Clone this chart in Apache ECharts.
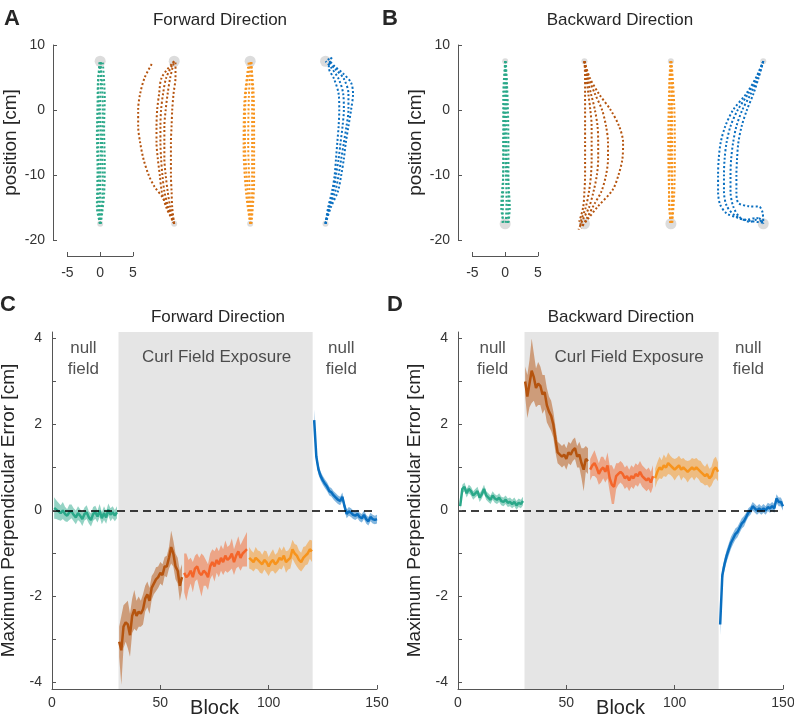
<!DOCTYPE html>
<html><head><meta charset="utf-8">
<script src="https://cdn.jsdelivr.net/npm/echarts@6/dist/echarts.min.js"></script>
<style>html,body{margin:0;padding:0;background:#fff}#c{width:794px;height:717px}</style>
</head><body><div id="c"></div>
<script>
// ---------------- DATA ----------------
// Panels A/B: column offsets (cm) and hand-path trials (dx from column, y in cm)
const fwdColumns = [0, 11.3, 22.9, 34.4];
const bwdColumns = [0, 12.1, 25.3, 39.4];
const fwdStartY = -17.5, fwdTargetY = 7.5;
const bwdStartY = 7.5, bwdTargetY = -17.5;

const fwdNullPre = [
 [[0.0,-17.5],[0.3,-14],[0.4,-10],[0.3,-5],[0.4,0],[0.3,4],[0.0,7.5]],
 [[0.0,-17.5],[-0.3,-14],[-0.2,-10],[-0.3,-5],[-0.2,0],[-0.3,4],[-0.1,7.5]],
 [[0.1,-17.5],[0.6,-13],[0.7,-8],[0.6,-3],[0.7,2],[0.4,7.3]],
 [[-0.1,-17.5],[0.0,-12],[0.1,-6],[0.0,0],[0.1,5],[0.1,7.5]],
 [[0.0,-17.5],[-0.5,-15],[-0.4,-9],[-0.5,-4],[-0.4,1],[-0.3,5],[0.2,7.5]]
];
const fwdCurlEarly = [
 [[0,-17.5],[-1.0,-15],[-1.8,-13.4],[-3.0,-11.8],[-3.9,-10],[-4.7,-7.5],[-5.2,-5],[-5.5,-2.5],[-5.5,0],[-5.2,2.5],[-4.5,5],[-3.3,7.3]],
 [[0,-17.5],[-1.2,-15],[-1.9,-12.5],[-2.2,-10],[-2.5,-7.5],[-2.7,-5],[-2.7,-2.5],[-2.6,0],[-2.3,2.5],[-1.9,5],[0,7.5]],
 [[0,-17.5],[-0.9,-15],[-1.5,-12.5],[-1.8,-10],[-2.0,-7.5],[-2.1,-5],[-2.1,-2.5],[-2.0,0],[-1.7,2.5],[-1.2,5],[0,7.5]],
 [[0,-17.5],[-0.6,-15],[-1.0,-12.5],[-1.3,-10],[-1.5,-7.5],[-1.5,-5],[-1.5,-2.5],[-1.3,0],[-1.0,2.5],[-0.6,5],[0,7.5]],
 [[0,-17.5],[-0.3,-15],[-0.4,-12.5],[-0.5,-10],[-0.5,-7.5],[-0.5,-5],[-0.4,-2.5],[-0.3,0],[-0.1,2.5],[0.2,5],[0.2,7.5]]
];
const fwdCurlLate = [
 [[0,-17.5],[-0.4,-12],[-0.8,-5],[-0.7,2],[0,7.5]],
 [[0.1,-17.5],[-0.1,-12],[-0.3,-5],[-0.2,2],[0.1,7.5]],
 [[0.1,-17.5],[0.3,-12],[0.3,-5],[0.3,2],[0.2,7.5]],
 [[0,-17.5],[-0.6,-13],[-1.0,-6],[-0.9,1],[-0.2,7.5]],
 [[0.2,-17.5],[0.6,-11],[0.6,-4],[0.5,3],[0.1,7.5]]
];
const fwdNullPost = [
 [[0,-17.5],[0.8,-15],[1.9,-12.5],[2.4,-10],[2.8,-7.5],[3.1,-5],[3.5,-2.5],[3.9,0],[4.2,2.5],[3.9,4.2],[2.7,5.6],[1.3,6.8],[0.4,7.9],[0.3,8.3]],
 [[0,-17.5],[0.6,-15],[1.5,-12.5],[2.0,-10],[2.4,-7.5],[2.8,-5],[3.2,-2.5],[3.5,0],[3.5,2.5],[2.8,4.8],[1.5,6.3],[0.3,7.5]],
 [[0,-17.5],[0.5,-15],[1.2,-12.5],[1.6,-10],[2.0,-7.5],[2.3,-5],[2.6,-2.5],[2.8,0],[2.7,2.5],[2.0,4.8],[0.8,6.6],[0,7.5]],
 [[0,-17.5],[0.4,-15],[1.0,-12.5],[1.4,-10],[1.6,-7.5],[1.8,-5],[2.0,-2.5],[2.1,0],[2.0,2.5],[1.3,4.8],[0.5,6.5],[0.8,7.8],[1.1,8.3]]
];
const bwdNullPre = [
 [[0,7.5],[0.1,3],[0.0,-3],[0.1,-9],[0.2,-14],[0.1,-17.5]],
 [[0,7.5],[-0.3,2],[-0.3,-5],[-0.3,-11],[-0.4,-17.5]],
 [[0.1,7.5],[0.4,1],[0.5,-6],[0.5,-12],[0.4,-17.5]],
 [[0,7.5],[0.2,4],[0.2,-2],[0.25,-8],[0.7,-15],[0.5,-17.5]],
 [[0,7.5],[-0.1,3],[-0.2,-4],[-0.3,-10],[-0.6,-15],[-0.2,-17.5]]
];
const bwdCurlEarly = [
 [[0,7.5],[0.8,5],[2.2,2.5],[4.0,0],[5.3,-2.5],[5.9,-5],[5.8,-7.5],[5.2,-10],[4.3,-12.3],[2.0,-14.9],[0.5,-16.8],[-0.3,-17.8]],
 [[0,7.5],[0.6,5],[1.6,2.5],[2.7,0],[3.3,-2.5],[3.6,-5],[3.6,-7.5],[3.3,-10],[2.6,-12.5],[1.5,-14.5],[0.3,-16.8],[-0.5,-18.2]],
 [[0,7.5],[0.4,5],[1.0,2.5],[1.6,0],[2.0,-2.5],[2.1,-5],[2.1,-7.5],[1.9,-10],[1.4,-12.5],[0.7,-15],[-0.3,-17],[-0.9,-18.4]],
 [[0,7.5],[0.3,5],[0.6,2.5],[0.9,0],[1.1,-2.5],[1.1,-5],[1.1,-7.5],[1.0,-10],[0.7,-12.5],[0.2,-15],[-0.5,-17],[-0.6,-18.0]],
 [[0,7.5],[0.1,5],[0.1,2.5],[0.1,0],[0.1,-2.5],[0.1,-5],[0.1,-7.5],[0.1,-10],[0.0,-12.5],[-0.2,-15],[-0.8,-17.2]]
];
const bwdCurlLate = [
 [[0,7.5],[0.1,2],[0.2,-5],[0.2,-12],[0.1,-17.5]],
 [[-0.1,7.5],[-0.3,2],[-0.4,-5],[-0.3,-12],[-0.1,-17.5]],
 [[0.1,7.5],[0.5,1],[0.6,-6],[0.5,-13],[0.2,-17.5]],
 [[0,7.5],[0.2,3],[0.0,-4],[0.1,-10],[0.3,-15],[0,-17.5]],
 [[0,7.5],[-0.2,4],[-0.1,-2],[-0.2,-9],[-0.3,-14],[0,-17.5]]
];
const bwdNullPost = [
 [[0,7.5],[-1.1,5],[-2.6,2.5],[-4.6,0],[-5.8,-2.5],[-6.5,-5],[-6.8,-7.5],[-6.9,-10],[-6.9,-12.5],[-6.6,-14.5],[-5.6,-15.9],[-3.8,-16.6],[-1.8,-17.1],[-0.2,-17.3]],
 [[0,7.5],[-1.0,5],[-2.3,2.5],[-3.9,0],[-5.0,-2.5],[-5.6,-5],[-5.9,-7.5],[-6.0,-10],[-6.0,-12.5],[-5.6,-14.7],[-4.4,-16.2],[-2.7,-16.9],[-1.0,-16.6],[0,-17.5]],
 [[0,7.5],[-0.8,5],[-1.9,2.5],[-3.2,0],[-4.1,-2.5],[-4.6,-5],[-4.9,-7.5],[-5.0,-10],[-5.0,-12.5],[-4.6,-14.8],[-3.6,-16.5],[-2.0,-17.2],[-0.6,-16.7],[0,-17.6]],
 [[0,7.5],[-0.7,5],[-1.5,2.5],[-2.5,0],[-3.3,-2.5],[-3.8,-5],[-4.0,-7.5],[-4.1,-10],[-4.1,-12.5],[-3.8,-14.3],[-2.2,-14.8],[-0.6,-14.9],[-0.1,-15.8],[0,-17.5]]
];

// Panels C/D: segment start blocks, means and error half-widths (cm)
const segStarts = [1, 31, 61, 91, 121];
const cGreen  = [0.06,0.02,-0.02,-0.06,0.0,-0.08,-0.12,-0.04,-0.02,-0.1,-0.16,-0.06,-0.12,-0.2,-0.08,-0.04,-0.16,-0.22,-0.08,-0.04,-0.14,0.0,-0.18,-0.06,-0.16,0.02,-0.1,-0.04,-0.12,-0.04];
const cGreenErr = [0.25,0.22,0.2,0.18,0.2,0.17,0.15,0.18,0.16,0.15,0.16,0.16,0.15,0.16,0.15,0.16,0.14,0.15,0.16,0.15,0.14,0.15,0.14,0.16,0.15,0.14,0.15,0.14,0.13,0.14];
const cBrown  = [-3.05,-3.25,-2.7,-2.6,-2.65,-2.9,-2.45,-2.3,-2.45,-2.35,-2.4,-2.3,-2.05,-1.95,-2.1,-1.8,-1.7,-1.6,-1.55,-1.45,-1.5,-1.3,-1.3,-1.1,-0.85,-1.0,-1.3,-1.4,-1.75,-1.55];
const cBrownErr = [0.35,0.8,0.5,0.45,0.55,0.5,0.4,0.45,0.35,0.35,0.3,0.35,0.3,0.3,0.3,0.28,0.25,0.28,0.25,0.25,0.25,0.22,0.25,0.25,0.38,0.3,0.3,0.3,0.35,0.3];
const cRed    = [-1.45,-1.55,-1.5,-1.4,-1.55,-1.35,-1.3,-1.45,-1.5,-1.4,-1.45,-1.55,-1.3,-1.2,-1.3,-1.15,-1.25,-1.1,-1.2,-1.05,-1.15,-1.1,-1.0,-1.2,-1.05,-0.95,-1.1,-1.0,-0.95,-0.9];
const cRedErr = [0.45,0.55,0.35,0.3,0.35,0.3,0.3,0.35,0.5,0.35,0.3,0.3,0.3,0.3,0.35,0.3,0.3,0.3,0.3,0.35,0.3,0.3,0.35,0.3,0.3,0.35,0.3,0.3,0.35,0.4];
const cOrange = [-1.1,-1.15,-1.2,-1.1,-1.15,-1.2,-1.25,-1.15,-1.2,-1.3,-1.2,-1.15,-1.25,-1.2,-1.1,-1.15,-1.05,-1.2,-1.15,-1.1,-0.9,-1.0,-1.05,-1.15,-1.2,-1.1,-1.05,-1.0,-0.9,-0.95];
const cOrangeErr = [0.25,0.22,0.22,0.25,0.22,0.25,0.22,0.22,0.25,0.22,0.22,0.25,0.22,0.22,0.25,0.22,0.22,0.25,0.22,0.25,0.22,0.22,0.25,0.22,0.22,0.25,0.22,0.25,0.22,0.25];
const cBlue   = [2.1,1.25,0.95,0.8,0.7,0.62,0.55,0.45,0.42,0.35,0.3,0.25,0.22,0.32,0.1,-0.08,-0.02,-0.05,-0.1,-0.12,-0.08,-0.15,-0.18,-0.1,-0.2,-0.25,-0.15,-0.2,-0.22,-0.2];
const cBlueErr = [0.25,0.12,0.12,0.1,0.1,0.1,0.1,0.1,0.1,0.1,0.1,0.1,0.1,0.1,0.1,0.1,0.1,0.1,0.1,0.1,0.1,0.1,0.1,0.1,0.1,0.1,0.1,0.1,0.1,0.1];

const dGreen  = [0.1,0.5,0.55,0.4,0.5,0.45,0.35,0.4,0.45,0.3,0.38,0.5,0.35,0.3,0.25,0.35,0.28,0.25,0.3,0.22,0.2,0.25,0.18,0.2,0.15,0.2,0.12,0.18,0.15,0.22];
const dGreenErr = [0.08,0.1,0.1,0.1,0.1,0.1,0.1,0.1,0.1,0.1,0.1,0.1,0.1,0.1,0.1,0.1,0.1,0.1,0.1,0.1,0.1,0.1,0.1,0.1,0.1,0.1,0.1,0.1,0.1,0.1];
const dBrown  = [3.0,2.65,2.95,3.25,3.1,2.85,2.95,2.9,2.7,2.75,2.45,2.3,2.2,2.0,1.65,1.35,1.3,1.25,1.3,1.2,1.35,1.3,1.4,1.45,1.25,1.3,1.1,0.95,1.2,1.15];
const dBrownErr = [0.35,0.5,0.55,0.75,0.55,0.45,0.5,0.45,0.45,0.4,0.4,0.35,0.35,0.3,0.3,0.25,0.25,0.25,0.25,0.25,0.25,0.25,0.25,0.25,0.25,0.3,0.35,0.5,0.3,0.3];
const dRed    = [0.95,1.05,1.1,1.0,0.85,0.95,1.0,0.9,1.05,0.75,0.6,0.55,0.8,0.85,0.9,0.85,0.75,0.8,0.7,0.8,0.75,0.85,0.8,0.9,0.8,0.75,0.7,0.75,0.65,0.8];
const dRedErr = [0.25,0.25,0.3,0.25,0.25,0.3,0.25,0.25,0.3,0.3,0.45,0.4,0.3,0.25,0.25,0.25,0.25,0.25,0.25,0.25,0.25,0.25,0.25,0.25,0.25,0.25,0.25,0.25,0.25,0.25];
const dOrange = [0.75,0.9,1.0,0.95,1.05,1.0,1.1,1.05,1.0,0.95,1.0,1.05,0.95,1.0,0.95,0.9,0.95,1.0,0.95,1.0,0.95,0.9,0.85,0.8,0.85,0.75,0.8,0.95,1.0,0.9];
const dOrangeErr = [0.22,0.22,0.25,0.22,0.25,0.22,0.25,0.22,0.22,0.25,0.22,0.22,0.25,0.22,0.22,0.25,0.22,0.22,0.25,0.22,0.22,0.25,0.22,0.22,0.25,0.22,0.22,0.25,0.25,0.22];
const dBlue   = [-2.65,-1.5,-1.25,-1.05,-0.9,-0.75,-0.65,-0.55,-0.5,-0.4,-0.3,-0.25,-0.15,-0.05,0.0,0.1,0.05,0.0,0.05,0.0,0.05,0.0,0.08,0.05,0.1,0.05,0.28,0.2,0.2,0.1];
const dBlueErr = [0.25,0.15,0.14,0.14,0.14,0.14,0.13,0.13,0.12,0.12,0.12,0.12,0.1,0.1,0.1,0.1,0.1,0.1,0.1,0.1,0.1,0.1,0.1,0.1,0.1,0.1,0.1,0.1,0.1,0.1];

const yTickValues = [-4,-3,-2,-1,0,1,2,3,4];
const yLabelValues = [-4,-2,0,2,4];
const annotC = [{value:[14.5, 3.52], name:'null\nfield'}, {value:[76, 3.56], name:'Curl Field Exposure'}, {value:[133.5, 3.52], name:'null\nfield'}];
const annotD = [{value:[16, 3.52], name:'null\nfield'}, {value:[79, 3.56], name:'Curl Field Exposure'}, {value:[134, 3.52], name:'null\nfield'}];

// ---------------- STYLE ----------------
const FONT = "'Liberation Sans', Arial, Helvetica, sans-serif";
const AXC = '#555555', LBL = '#333333', TXT = '#262626';
const COL = {green:'#2aa889', brown:'#b5540f', red:'#f4652a', orange:'#f7941d', blue:'#0a6fc0'};

const chart = echarts.init(document.getElementById('c'));

function trajSeries(ai, trials, col, color){
  return trials.map(t => ({
    type:'line', xAxisIndex:ai, yAxisIndex:ai, silent:true, z:3,
    data: t.map(p => [p[0] + col, p[1]]), showSymbol:false, smooth:0.3,
    lineStyle:{color, width:2, type:[2,2.2], cap:'butt'}
  }));
}
function targetSeries(ai, cols, y, size){
  return {type:'scatter', xAxisIndex:ai, yAxisIndex:ai, silent:true, z:2,
    data: cols.map(c => [c, y]), symbolSize:size, itemStyle:{color:'#d3d3d3'}};
}
function bandSeries(ai, start, vals, errs, color){
  const pts = vals.map((v,i) => [start + i, v - errs[i], v + errs[i]]);
  return {type:'custom', xAxisIndex:ai, yAxisIndex:ai, silent:true, z:3,
    data: pts, encode:{x:0, y:[1,2]},
    renderItem:(params, api) => {
      if (params.dataIndex !== 0) return null;
      const up = pts.map(p => api.coord([p[0], p[2]]));
      const lo = pts.map(p => api.coord([p[0], p[1]])).reverse();
      return {type:'polygon', shape:{points: up.concat(lo)}, style:{fill: color, opacity: 0.5}};
    }};
}
function meanSeries(ai, start, vals, color, extra){
  return Object.assign({type:'line', xAxisIndex:ai, yAxisIndex:ai, silent:true, z:4,
    data: vals.map((v,i) => [start + i, v]), showSymbol:false,
    lineStyle:{color, width:2.5}}, extra || {});
}
function panelSeries(ai, sets, annot){
  const out = [];
  sets.forEach((s, k) => {
    out.push(bandSeries(ai, segStarts[k], s[0], s[1], s[2]));
    const extra = k === 0 ? {
      markArea:{silent:true, itemStyle:{color:'#e5e5e5'}, data:[[{xAxis:30.7},{xAxis:120.3}]]},
      markLine:{silent:true, symbol:'none', label:{show:false}, z:6,
        lineStyle:{color:'#000', width:1.5, type:[8,5], opacity:1}, data:[{yAxis:0}]}
    } : null;
    out.push(meanSeries(ai, segStarts[k], s[0], s[2], extra));
  });
  out.push({type:'scatter', xAxisIndex:ai, yAxisIndex:ai, silent:true, z:7, symbolSize:0,
    data: annot, label:{show:true, position:'inside', formatter:'{b}', fontSize:17, lineHeight:21, color:TXT, fontFamily:FONT}});
  return out;
}

const series = [].concat(
  targetSeries(0, fwdColumns, fwdStartY, 6), targetSeries(0, fwdColumns, fwdTargetY, 11),
  trajSeries(0, fwdNullPre, fwdColumns[0], COL.green),
  trajSeries(0, fwdCurlEarly, fwdColumns[1], COL.brown),
  trajSeries(0, fwdCurlLate, fwdColumns[2], COL.orange),
  trajSeries(0, fwdNullPost, fwdColumns[3], COL.blue),
  targetSeries(2, bwdColumns, bwdStartY, 6), targetSeries(2, bwdColumns, bwdTargetY, 11),
  trajSeries(2, bwdNullPre, bwdColumns[0], COL.green),
  trajSeries(2, bwdCurlEarly, bwdColumns[1], COL.brown),
  trajSeries(2, bwdCurlLate, bwdColumns[2], COL.orange),
  trajSeries(2, bwdNullPost, bwdColumns[3], COL.blue),
  panelSeries(4, [[cGreen,cGreenErr,COL.green],[cBrown,cBrownErr,COL.brown],[cRed,cRedErr,COL.red],[cOrange,cOrangeErr,COL.orange],[cBlue,cBlueErr,COL.blue]], annotC),
  panelSeries(5, [[dGreen,dGreenErr,COL.green],[dBrown,dBrownErr,COL.brown],[dRed,dRedErr,COL.red],[dOrange,dOrangeErr,COL.orange],[dBlue,dBlueErr,COL.blue]], annotD)
);

const axLine = {show:true, onZero:false, lineStyle:{color:AXC, width:1}};
const tick = {show:true, inside:true, length:4, lineStyle:{color:AXC}};
const lab = {color:LBL, fontSize:14, fontFamily:FONT};
const hidden = (min, max) => ({type:'value', min, max, show:false, axisLine:{onZero:false}});
const scaleX = {type:'value', min:-5, max:5, interval:5, axisLine:axLine, axisTick:tick, splitLine:{show:false},
  axisLabel:Object.assign({margin:10}, lab)};
const blockX = {type:'value', min:0, max:150, interval:50, z:10, axisLine:axLine, axisTick:tick, splitLine:{show:false},
  axisLabel:Object.assign({margin:7}, lab), name:'Block', nameLocation:'middle', nameGap:9, nameMoveOverlap:false,
  nameTextStyle:{fontSize:20, color:TXT, fontFamily:FONT}};
const posY = {type:'value', min:-20, max:10, interval:10, axisLine:axLine, axisTick:tick, splitLine:{show:false},
  axisLabel:Object.assign({margin:8}, lab), name:'position [cm]', nameLocation:'middle', nameGap:33, nameMoveOverlap:false,
  nameTextStyle:{fontSize:19, color:TXT, fontFamily:FONT}};
const errY = {type:'value', min:-4.15, max:4.15, z:10, axisLine:axLine,
  axisTick:Object.assign({customValues:yTickValues}, tick), splitLine:{show:false},
  axisLabel:Object.assign({margin:10, customValues:yLabelValues}, lab),
  name:'Maximum Perpendicular Error [cm]', nameLocation:'middle', nameGap:34, nameMoveOverlap:false,
  nameTextStyle:{fontSize:19, color:TXT, fontFamily:FONT}};

const txt = (text, x, y, size, bold) => ({type:'text', x, y, silent:true, style:{text, fill:TXT,
  font:(bold ? 'bold ' : '') + size + 'px ' + FONT, align:'center', verticalAlign:'middle',
  textAlign:'center', textVerticalAlign:'middle'}});
const G = (o) => Object.assign({outerBoundsMode:'none', containLabel:false}, o);

chart.setOption({
  animation:false,
  backgroundColor:'#fff',
  textStyle:{fontFamily:FONT},
  grid:[
    G({left:53, top:45, width:322.3, height:195}),
    G({left:67.4, top:200, width:65.5, height:56}),
    G({left:458, top:45, width:322.3, height:195}),
    G({left:472.4, top:200, width:65.5, height:56}),
    G({left:52, top:332, width:325, height:357}),
    G({left:458, top:332, width:325, height:357})
  ],
  xAxis:[
    Object.assign(hidden(-7.2, 42), {gridIndex:0}),
    Object.assign({gridIndex:1}, scaleX),
    Object.assign(hidden(-7.2, 42), {gridIndex:2}),
    Object.assign({gridIndex:3}, scaleX),
    Object.assign({gridIndex:4}, blockX),
    Object.assign({gridIndex:5}, blockX)
  ],
  yAxis:[
    Object.assign({gridIndex:0}, posY),
    Object.assign(hidden(0, 1), {gridIndex:1}),
    Object.assign({gridIndex:2}, posY),
    Object.assign(hidden(0, 1), {gridIndex:3}),
    Object.assign({gridIndex:4}, errY),
    Object.assign({gridIndex:5}, errY)
  ],
  graphic:[
    txt('A', 12, 19, 22, true), txt('B', 390, 19, 22, true),
    txt('C', 8, 305, 22, true), txt('D', 395, 305, 22, true),
    txt('Forward Direction', 220, 20, 17), txt('Backward Direction', 620, 20, 17),
    txt('Forward Direction', 218, 317, 17), txt('Backward Direction', 621, 317, 17)
  ],
  series
});
</script></body></html>
